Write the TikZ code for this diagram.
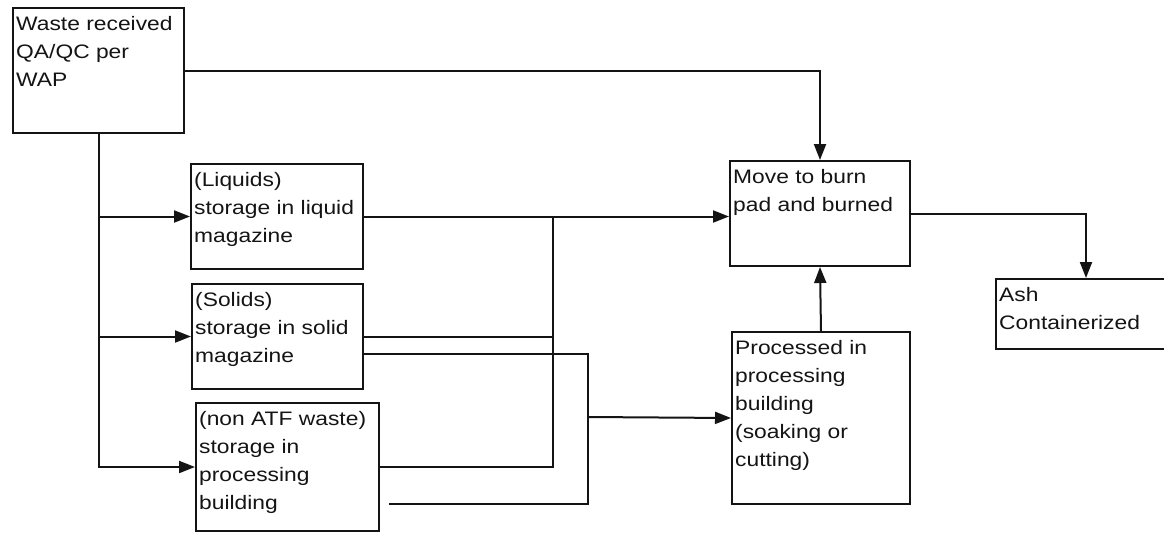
\documentclass[tikz,border=0pt]{standalone}
\usepackage{fontspec}
\setmainfont{Liberation Sans}[FakeStretch=1.17]
\usepackage{xcolor}
\usepackage{tikz}
\usetikzlibrary{arrows.meta,calc,positioning}
\definecolor{flowink}{gray}{0.08}
\definecolor{flowpaper}{gray}{1}

\begin{document}
\begin{tikzpicture}[x=1pt,y=-1pt,
  box/.style={draw=flowink,line width=2pt,fill=flowpaper,inner sep=0pt,anchor=north west},
  boxtext/.style={anchor=north west,xshift=4pt,yshift=-9pt,inner sep=0pt,align=left,
    text=flowink,font=\fontsize{19.5}{28}\selectfont},
  line/.style={draw=flowink,line width=2pt},
  flow/.style={line,-{Triangle[length=16pt,width=12pt]}}]
\useasboundingbox[fill=flowpaper] (0,0) rectangle (1164,533);
% boxes
\node[box,minimum width=171,minimum height=125,
  label={[boxtext]north west:{Waste received\\QA/QC per\\WAP}}] (waste) at (12,7) {};
\node[box,minimum width=172,minimum height=105,
  label={[boxtext]north west:{(Liquids)\\storage in liquid\\magazine}}] (liquid) at (190,163) {};
\node[box,minimum width=171,minimum height=105,
  label={[boxtext]north west:{(Solids)\\storage in solid\\magazine}}] (solid) at (191,283) {};
\node[box,minimum width=183,minimum height=128,
  label={[boxtext]north west:{(non ATF waste)\\storage in\\processing\\building}}] (natf) at (195,402) {};
\node[box,minimum width=180,minimum height=105,
  label={[boxtext]north west:{Move to burn\\pad and burned}}] (burn) at (729,160) {};
\node[box,minimum width=178,minimum height=172,
  label={[boxtext]north west:{Processed in\\processing\\building\\(soaking or\\cutting)}}] (proc) at (731,331) {};
\node[box,minimum width=180,minimum height=70,
  label={[boxtext]north west:{Ash\\Containerized}}] (ash) at (995,278) {};
% joins
\coordinate (join1) at (553,215.5);
\coordinate (join2) at (588,417);
% connectors
\draw[flow] (waste.east) -| (burn.north);
\draw[flow] (waste.south) |- (liquid.west);
\draw[flow] (waste.south) |- (solid.west);
\draw[flow] (waste.south) |- (natf.west);
\draw[flow] (liquid.east) -- (liquid.east -| burn.west);
\draw[line] (solid.east) -| (join1);
\draw[line] (natf.east) -| (join1);
\draw[line] ([yshift=-17pt]solid.east) -| (join2);
\draw[line,shorten <=9pt] ([yshift=-37pt]natf.east) -| (join2);
\draw[flow] (join2) -- (proc.west);
\draw[flow] (proc.north) -- (burn.south);
\draw[flow] (burn.east) -| (ash.north);
\end{tikzpicture}
\end{document}
